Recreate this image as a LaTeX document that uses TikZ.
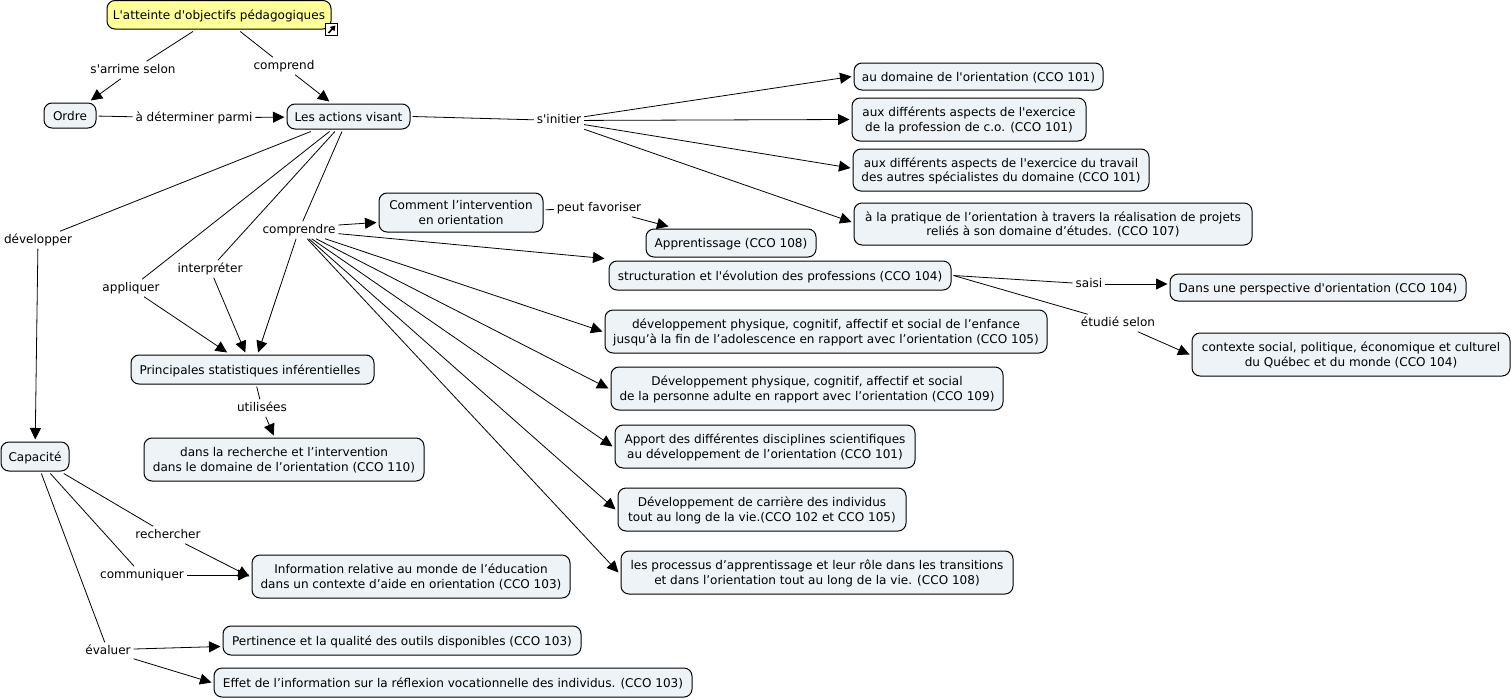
\documentclass[tikz,border=0pt]{standalone}
\usepackage{fontspec}
\setmainfont{DejaVu Sans}
\usetikzlibrary{arrows.meta,calc}
\definecolor{cfill}{HTML}{EDF3F6}
\definecolor{tfill}{HTML}{FFFF99}
\newcommand{\qt}{\textquotesingle{}}
\tikzset{
  concept/.style={draw=black,line width=1pt,fill=cfill,rounded corners=8pt,inner sep=0pt,outer sep=2.5pt,font=\fontsize{12.05}{14.6}\selectfont},
  titlebox/.style={concept,fill=tfill},
  linklabel/.style={inner sep=0pt,outer sep=3pt,font=\fontsize{12.05}{14.6}\selectfont,text height=9pt,text depth=2.5pt},
  link/.style={draw=black,line width=0.8pt},
  arrowlink/.style={link,-{Stealth[inset=0pt,length=11.5pt,width=11pt]}}
}
\newcommand{\cpt}[7][concept]{% style,name,x1,y1,x2,y2,text
  \node[#1,minimum width={(#5-#3)*1pt},minimum height={(#6-#4)*1pt}] (#2) at ({(#3+#5)/2},{(#4+#6)/2}) {\raisebox{-1.7pt}[\height][\depth]{\begin{tabular}{@{}c@{}}#7\end{tabular}}};}
\begin{document}
\begin{tikzpicture}[x=1pt,y=-1pt]
\useasboundingbox (0,0) rectangle (1511,699);
\cpt[titlebox]{top}{107}{0.5}{331}{29}{L\qt atteinte d\qt objectifs pédagogiques}
\cpt{ordre}{44}{103}{96}{128}{Ordre}
\cpt{actions}{287}{104}{410}{129}{Les actions visant}
\cpt{a1}{854}{63}{1103}{90}{au domaine de l\qt orientation (CCO 101)}
\cpt{a2}{852}{98}{1086}{141}{aux différents aspects de l\qt exercice\\de la profession de c.o. (CCO 101)}
\cpt{a3}{853}{149}{1149}{191}{aux différents aspects de l\qt exercice du travail\\des autres spécialistes du domaine (CCO 101)}
\cpt{a4}{854}{203}{1252}{245}{à la pratique de l’orientation à travers la réalisation de projets\\reliés à son domaine d’études. (CCO 107)}
\cpt{comment}{379}{193}{543}{232}{Comment l’intervention\\en orientation}
\cpt{appr}{646}{229}{816}{257}{Apprentissage (CCO 108)}
\cpt{struct}{609}{261}{951}{290}{structuration et l\qt évolution des professions (CCO 104)}
\cpt{persp}{1170}{274}{1466}{301}{Dans une perspective d\qt orientation (CCO 104)}
\cpt{contexte}{1192}{333}{1510}{376}{contexte social, politique, économique et culturel\\du Québec et du monde (CCO 104)}
\cpt{c1}{605}{310}{1047}{353}{développement physique, cognitif, affectif et social de l’enfance\\jusqu’à la fin de l’adolescence en rapport avec l’orientation (CCO 105)}
\cpt{c2}{611}{367}{1003}{410}{Développement physique, cognitif, affectif et social\\de la personne adulte en rapport avec l’orientation (CCO 109)}
\cpt{c3}{615}{425}{915}{468}{Apport des différentes disciplines scientifiques\\au développement de l’orientation (CCO 101)}
\cpt{c4}{618}{488}{906}{531}{Développement de carrière des individus\\tout au long de la vie.(CCO 102 et CCO 105)}
\cpt{c5}{621}{551}{1013}{594}{les processus d’apprentissage et leur rôle dans les transitions\\et dans l’orientation tout au long de la vie. (CCO 108)}
\cpt{stats}{131}{355}{374}{384}{Principales statistiques inférentielles\hspace*{5pt}}
\cpt{rech}{144}{438}{424}{481}{dans la recherche et l’intervention\\dans le domaine de l’orientation (CCO 110)}
\cpt{capa}{1}{442}{69}{471}{Capacité}
\cpt{info}{252}{555}{570}{598}{Information relative au monde de l’éducation\\dans un contexte d’aide en orientation (CCO 103)}
\cpt{pert}{223}{626}{581}{655}{Pertinence et la qualité des outils disponibles (CCO 103)}
\cpt{effet}{214}{668}{692}{697}{Effet de l’information sur la réflexion vocationnelle des individus. (CCO 103)}
\foreach \n/\x/\y/\t in {
 larrime/133/70/s\qt arrime selon, lcomp/284/66/comprend, ldet/194/118/à déterminer parmi,
 linit/559/120.5/s\qt initier, ldev/38/240/développer, lappl/131/288/appliquer,
 linter/210/269/interpréter, lcompr/299/230/comprendre, lpeut/599/208/peut favoriser,
 lsaisi/1089/284/saisi, letud/1118/323/étudié selon, lutil/262/408/utilisées,
 lrecher/168/535/rechercher, lcomm/142/575/communiquer, leval/108/651/évaluer}
 {\node[linklabel] (\n) at (\x,\y) {\t};}
% link icon
\node[draw=black,fill=white,line width=1pt,minimum size=12.5pt,inner sep=0pt,outer sep=0pt] (icon) at (331.5,29.5) {};
\draw[line width=1.6pt,-{Stealth[inset=0pt,length=5pt,width=6pt]}] ([shift={(-3,3.5)}]icon.center) -- ([shift={(4,-4)}]icon.center);
% connectors
\draw[link] (top) -- (larrime);
\draw[arrowlink] (larrime) -- (ordre);
\draw[link] (top) -- (lcomp);
\draw[arrowlink] (lcomp) -- (actions);
\draw[link] (ordre) -- (ldet);
\draw[arrowlink] (ldet) -- (actions);
\draw[link] (actions.east) -- (linit);
\draw[arrowlink] (linit) -- (a1.west);
\draw[arrowlink] (linit) -- (a2.west);
\draw[arrowlink] (linit) -- ([yshift=2pt]a3.west);
\draw[arrowlink] (linit) -- ([yshift=2pt]a4.west);
\draw[link] (actions) -- (ldev);
\draw[arrowlink] (ldev) -- (capa);
\draw[link] (actions) -- (lappl);
\draw[arrowlink] (lappl) -- (stats);
\draw[link] (actions) -- (linter);
\draw[arrowlink] (linter) -- (stats);
\draw[link] (actions) -- (lcompr);
\draw[arrowlink] (lcompr) -- (stats);
\draw[arrowlink] ([yshift=5pt]lcompr.east) -- ([yshift=-10pt]comment.west);
\draw[link] (comment) -- (lpeut);
\draw[arrowlink] (lpeut) -- ([xshift=25pt]appr.north west);
\draw[arrowlink] (lcompr) -- ([xshift=-2pt]struct.north west);
\draw[arrowlink] (lcompr) -- (c1.west);
\draw[arrowlink] (lcompr) -- (c2.west);
\draw[arrowlink] (lcompr) -- (c3.west);
\draw[arrowlink] (lcompr) -- (c4.west);
\draw[arrowlink] (lcompr) -- (c5.west);
\draw[link] (struct.east) -- (lsaisi);
\draw[arrowlink] (lsaisi) -- ([yshift=3.5pt]persp.west);
\draw[link] (struct.east) -- (letud);
\draw[arrowlink] (letud) -- (contexte.west);
\draw[link] (stats) -- (lutil);
\draw[arrowlink] (lutil) -- (rech);
\draw[link] (capa) -- (lrecher);
\draw[arrowlink] (lrecher) -- (info.west);
\draw[link] (capa) -- (lcomm);
\draw[arrowlink] (lcomm.east) -- (lcomm.east -| info.west);
\draw[link] (capa) -- (leval);
\draw[arrowlink] ([yshift=2pt]leval.east) -- ([yshift=-6pt]pert.west);
\draw[arrowlink] (leval) -- (effet.west);
\end{tikzpicture}
\end{document}
